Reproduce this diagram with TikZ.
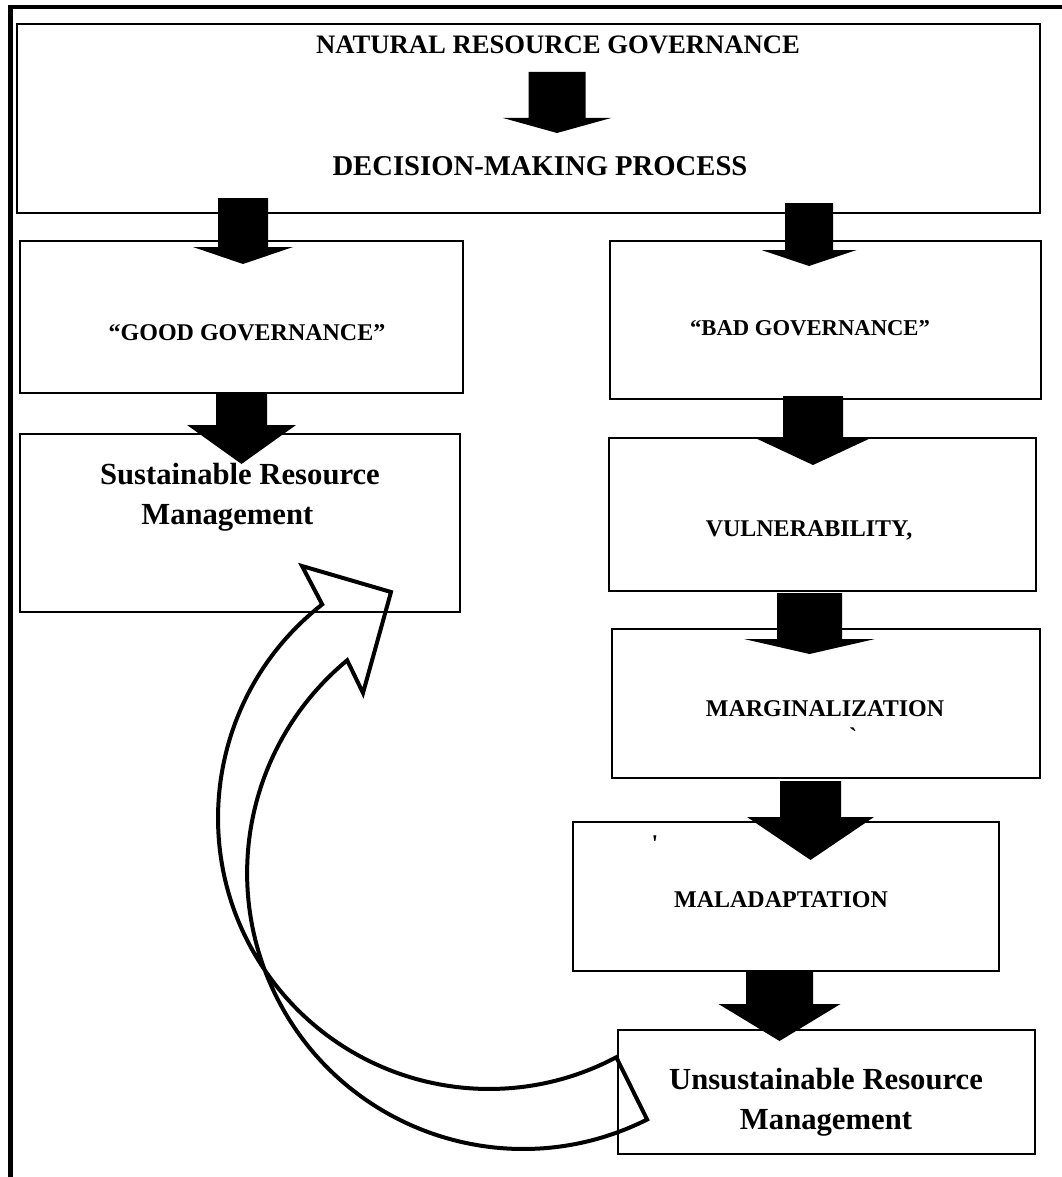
\documentclass[tikz,border=0pt]{standalone}
\usepackage{fontspec}
\setmainfont{Liberation Serif}
\usetikzlibrary{fit}
\newcommand\blockarr[6]{% cx, ytop, yhead, ytip, shaft half, wing half
  \fill[blk] ({#1-#5},#2) -- ({#1+#5},#2) -- ({#1+#5},#3) -- ({#1+#6},#3) -- (#1,#4) -- ({#1-#6},#3) -- ({#1-#5},#3) -- cycle;}
\begin{document}
\begin{tikzpicture}[x=0.75pt,y=-0.75pt,
  box/.style={draw=black, line width=1pt, inner sep=0pt},
  topbox/.style={draw=black, line width=2pt, inner sep=0pt},
  txt/.style={font=\bfseries\fontsize{18}{22}\selectfont, inner sep=0pt},
  bigtxt/.style={font=\bfseries\fontsize{20}{24}\selectfont, inner sep=0pt},
  mgtxt/.style={font=\bfseries\fontsize{23}{30}\selectfont, inner sep=0pt, align=center},
  marktxt/.style={font=\bfseries\fontsize{18}{20}\selectfont, inner sep=0pt},
  blk/.style={fill=black},
  curvearrow/.style={draw=black, line width=3pt, line join=miter}]
\useasboundingbox (0,0) rectangle (1062,1177);
% frame
\draw[line width=3pt] (8,7) -- (1062,7);
\draw[line width=3.75pt] (10.5,5) -- (10.5,1177);
% boxes
\node[topbox, fit={(17,24)(1040,213)}] (top) {};
\node[box, fit={(20,241)(463,393)}] (good) {};
\node[box, fit={(610,241)(1041,399)}] (bad) {};
\node[box, fit={(20,434)(460,612)}] (sust) {};
\node[box, fit={(609,438)(1036,591)}] (vuln) {};
\node[box, fit={(612,629)(1040,778)}] (marg) {};
\node[box, fit={(573,822)(999,971)}] (malad) {};
\node[box, fit={(618,1030)(1035,1154)}] (unsust) {};
% texts
\node[bigtxt] (nrg) at (558,45) {NATURAL RESOURCE GOVERNANCE};
\node[bigtxt, font=\bfseries\fontsize{21.5}{24}\selectfont] (dmp) at (540,166) {DECISION-MAKING PROCESS};
\node[txt] (goodt) at (247,333) {“GOOD GOVERNANCE”};
\node[txt, font=\bfseries\fontsize{17}{20}\selectfont] (badt) at (810,328) {“BAD GOVERNANCE”};
\node[mgtxt] (sustt) at (240,497) {Sustainable Resource\\Management\hspace*{19pt}};
\node[txt] (vulnt) at (809,530) {VULNERABILITY,};
\node[txt] (margt) at (825,709) {MARGINALIZATION};
\node[marktxt] (margm) at (853,736) {\textasciigrave};
\node[txt] (maladt) at (781,900) {MALADAPTATION};
\node[marktxt] (maladm) at (655,844) {\textquotesingle};
\node[mgtxt] (unsustt) at (826,1102) {Unsustainable Resource\\Management};
% block arrows
\blockarr{557}{72}{118}{133}{28.5}{54}
\blockarr{243}{198}{247}{264}{25}{50}
\blockarr{241.5}{393}{425}{464}{25.5}{54.5}
\blockarr{809}{203}{250}{266}{24}{47.5}
\blockarr{813}{396}{437}{465}{30}{60}
\blockarr{809.5}{593}{639}{654}{32.5}{65.5}
\blockarr{810.5}{781}{817}{860}{30.5}{63.5}
\blockarr{779.5}{971}{1004}{1041}{33.5}{61}
% curved arrow from unsustainable back to sustainable
\draw[curvearrow] (322.2,604.4) arc[start angle=232, end angle=62, radius=271]
  -- (647.1,1119.5) arc[start angle=63.3, end angle=230.4, radius=276]
  -- (363,693) -- (391,592) -- (302,566) -- cycle;
\end{tikzpicture}
\end{document}
